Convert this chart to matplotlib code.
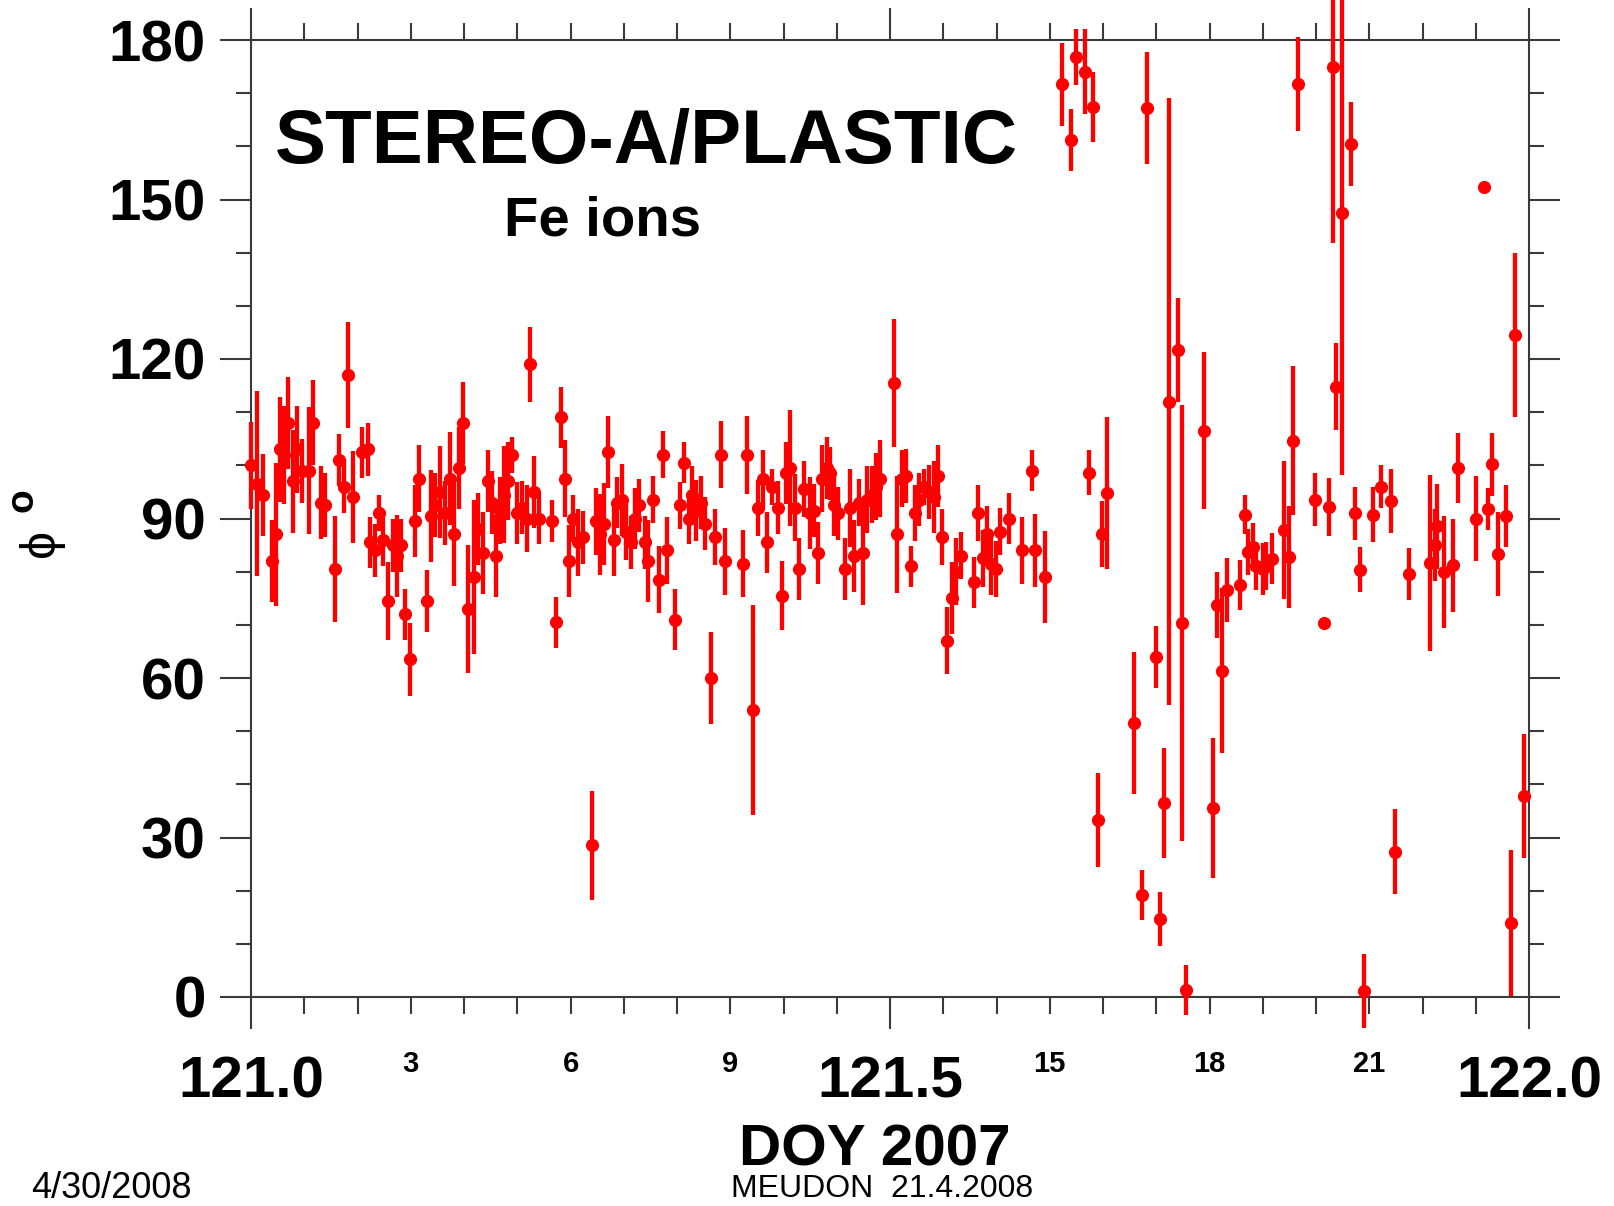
import numpy as np
import matplotlib
matplotlib.use("Agg")
import matplotlib.pyplot as plt
from matplotlib.ticker import MultipleLocator, FixedLocator, FuncFormatter

plt.rcParams["font.family"] = ["Liberation Sans", "DejaVu Sans"]
plt.rcParams["font.weight"] = "bold"

# Fe ion flow angle phi (deg) and its uncertainty, DOY 121 of 2007 (hours UT)
hour_of_day = [
    0.00, 0.12, 0.23, 0.39, 0.47, 0.54, 0.62, 0.70, 0.78, 0.87, 0.95, 1.08, 1.16, 1.32, 1.39,
    1.57, 1.66, 1.74, 1.82, 1.92, 2.09, 2.19, 2.24, 2.32, 2.40, 2.48, 2.57, 2.67, 2.75, 2.82,
    2.90, 2.98, 3.08, 3.15, 3.31, 3.38, 3.46, 3.54, 3.64, 3.73, 3.81, 3.91, 3.98, 4.08, 4.18,
    4.26, 4.35, 4.45, 4.53, 4.60, 4.68, 4.76, 4.83, 4.91, 4.99, 5.09, 5.18, 5.24, 5.32, 5.40,
    5.65, 5.72, 5.82, 5.90, 5.98, 6.05, 6.15, 6.23, 6.40, 6.48, 6.55, 6.63, 6.71, 6.81, 6.88,
    6.96, 7.04, 7.13, 7.21, 7.29, 7.39, 7.46, 7.54, 7.66, 7.73, 7.81, 7.97, 8.06, 8.14, 8.22,
    8.28, 8.35, 8.45, 8.53, 8.64, 8.72, 8.82, 8.91, 9.24, 9.32, 9.42, 9.53, 9.61, 9.69, 9.78,
    9.90, 9.98, 10.05, 10.13, 10.21, 10.30, 10.38, 10.50, 10.58, 10.65, 10.73, 10.81, 10.87,
    10.95, 11.02, 11.16, 11.25, 11.33, 11.41, 11.49, 11.56, 11.66, 11.74, 11.81, 12.07, 12.14,
    12.22, 12.30, 12.39, 12.47, 12.55, 12.64, 12.74, 12.82, 12.90, 12.97, 13.07, 13.17, 13.24,
    13.34, 13.57, 13.65, 13.74, 13.82, 13.90, 13.99, 14.07, 14.23, 14.48, 14.66, 14.73, 14.91,
    15.23, 15.40, 15.49, 15.66, 15.74, 15.82, 15.90, 15.98, 16.08, 16.58, 16.74, 16.82, 16.99,
    17.07, 17.15, 17.24, 17.41, 17.48, 17.56, 17.90, 18.07, 18.15, 18.23, 18.33, 18.57, 18.66,
    18.72, 18.82, 18.87, 19.00, 19.07, 19.17, 19.40, 19.49, 19.57, 19.66, 19.99, 20.15, 20.25,
    20.32, 20.38, 20.49, 20.66, 20.73, 20.82, 20.90, 21.07, 21.23, 21.41, 21.48, 21.74, 22.15,
    22.23, 22.27, 22.40, 22.57, 22.66, 23.00, 23.15, 23.23, 23.30, 23.41, 23.57, 23.66, 23.74,
    23.90,
]
phi_deg = [
    100.0, 96.5, 94.5, 82.0, 87.0, 103.0, 102.0, 108.0, 97.0, 103.0, 99.0, 99.0, 108.0, 93.0, 92.5,
    80.5, 101.0, 96.0, 117.0, 94.0, 102.5, 103.0, 85.5, 84.0, 91.0, 86.0, 74.5, 85.0, 83.0, 85.0,
    72.0, 63.5, 89.5, 97.5, 74.5, 90.5, 92.5, 95.0, 91.0, 97.5, 87.0, 99.5, 108.0, 73.0, 79.0,
    88.0, 83.5, 97.0, 93.0, 83.0, 91.5, 94.5, 97.0, 102.0, 91.0, 92.0, 90.0, 119.0, 95.0, 90.0,
    89.5, 70.5, 109.0, 97.5, 82.0, 90.0, 85.5, 86.5, 28.5, 89.5, 87.0, 89.0, 102.5, 86.0, 93.0,
    93.5, 87.5, 85.5, 90.0, 92.5, 85.5, 82.0, 93.5, 78.5, 102.0, 84.0, 71.0, 92.5, 100.5, 90.0,
    94.5, 91.5, 93.0, 89.0, 60.0, 86.5, 102.0, 82.0, 81.5, 102.0, 54.0, 92.0, 97.5, 85.5, 96.0,
    92.0, 75.5, 98.5, 99.5, 92.0, 80.5, 95.5, 91.0, 91.5, 83.5, 97.5, 99.5, 98.5,
    92.5, 91.0, 80.5, 92.0, 83.0, 93.0, 83.5, 93.5, 94.5, 96.0, 97.5, 115.5, 87.0,
    97.5, 98.0, 81.0, 91.0, 93.5, 96.0, 95.0, 94.0, 98.0, 86.5, 67.0, 75.0, 80.0,
    83.0, 78.0, 91.0, 82.5, 87.0, 81.5, 80.5, 87.5, 90.0, 84.0, 99.0, 84.0, 79.0,
    171.7, 161.2, 176.8, 174.0, 98.6, 167.4, 33.3, 87.0, 94.8, 51.5, 19.1, 167.2, 64.0,
    14.7, 36.5, 112.0, 121.7, 70.3, 1.3, 106.5, 35.5, 73.7, 61.4, 76.5, 77.5, 90.7,
    83.7, 84.6, 81.0, 80.5, 81.0, 82.4, 87.8, 82.8, 104.6, 171.7, 93.5, 70.3, 92.2,
    174.9, 114.8, 147.5, 160.4, 91.0, 80.4, 1.1, 90.7, 96.0, 93.3, 27.3, 79.5, 81.6,
    85.0, 88.5, 79.9, 81.2, 99.5, 90.0, 152.4, 91.8, 100.2, 83.3, 90.5, 13.9, 124.5,
    37.8,
]
phi_err = [
    8.2, 17.4, 7.7, 7.7, 13.5, 9.9, 9.2, 8.7, 9.7, 8.2, 6.0, 12.0, 8.0, 6.8, 6.0,
    10.0, 4.8, 5.0, 10.0, 8.7, 4.8, 5.0, 4.8, 5.0, 3.4, 5.0, 7.3, 5.0, 7.7, 5.0,
    4.8, 6.8, 6.8, 6.3, 5.8, 8.7, 6.0, 8.7, 6.0, 8.7, 9.7, 7.7, 7.7, 12.0, 14.5,
    6.8, 7.7, 5.8, 6.0, 7.7, 6.3, 9.2, 7.3, 3.4, 5.8, 5.0, 6.3, 7.0, 6.8, 4.8,
    4.0, 4.8, 5.8, 7.3, 6.8, 4.4, 6.3, 5.0, 10.2, 6.3, 7.7, 7.7, 6.8, 6.8, 4.8,
    6.8, 5.3, 5.0, 5.8, 5.0, 5.0, 7.7, 4.4, 6.3, 4.4, 6.3, 5.8, 4.4, 3.9, 4.8,
    5.3, 5.8, 5.0, 5.0, 8.7, 5.3, 6.3, 6.3, 6.3, 7.3, 19.8, 5.3, 5.3, 5.8, 3.4,
    5.0, 6.5, 5.8, 11.0, 6.3, 5.8, 5.3, 6.8, 5.0, 5.8, 6.3, 5.8, 5.0,
    5.8, 5.0, 5.8, 7.3, 6.8, 4.4, 9.7, 6.3, 5.3, 6.3, 7.3, 12.0, 11.0,
    5.3, 5.0, 3.9, 5.3, 5.0, 3.4, 5.0, 6.8, 5.8, 5.3, 6.3, 6.8, 6.3,
    4.4, 4.8, 5.3, 5.3, 5.3, 5.8, 5.3, 4.4, 4.8, 6.3, 3.9, 6.8, 8.7,
    7.8, 5.9, 5.2, 8.0, 4.2, 6.6, 8.8, 6.2, 14.3, 13.3, 4.7, 10.5, 5.8,
    5.1, 10.3, 57.0, 9.8, 41.0, 4.7, 14.8, 13.2, 6.2, 15.5, 6.0, 4.7, 3.7,
    4.4, 4.5, 4.5, 4.8, 4.5, 4.8, 13.0, 9.6, 14.0, 8.8, 5.0, 0.0, 5.5,
    33.0, 8.2, 49.3, 7.9, 5.0, 4.2, 7.0, 5.2, 4.0, 6.0, 8.0, 4.9, 16.5,
    6.8, 8.0, 10.5, 8.7, 6.6, 8.0, 0.0, 4.0, 5.9, 7.9, 5.8, 13.7, 15.4,
    11.6,
]

# axis tick labelling
major_doy = [121.0, 121.5, 122.0]
major_labels = ["121.0", "121.5", "122.0"]
hour_labels = {3: "3", 6: "6", 9: "9", 15: "15", 18: "18", 21: "21"}
phi_ticks = [0, 30, 60, 90, 120, 150, 180]

W, H = 1614, 1206
fig = plt.figure(figsize=(W / 100, H / 100), dpi=100)
ax = fig.add_axes([251 / W, 1 - 997 / H, (1529 - 251) / W, (997 - 40) / H])

doy = 121.0 + np.asarray(hour_of_day) / 24.0
red = "#ff0000"
eb = ax.errorbar(doy, phi_deg, yerr=phi_err, fmt="o", color=red, ecolor=red,
                 ms=9.5, mew=0, elinewidth=3.1, capsize=0, zorder=3)
eb[0].set_clip_on(False)
for coll in eb[2]:
    coll.set_clip_on(False)

ax.set_xlim(121.0, 122.0)
ax.set_ylim(0, 180)

frame_col = "#3a3a3a"
for sp in ax.spines.values():
    sp.set_color(frame_col)
    sp.set_linewidth(1.5)

# x axis: DOY major ticks, hourly minor ticks
ax.set_xticks(major_doy)
ax.set_xticklabels(major_labels)
ax.xaxis.set_minor_locator(FixedLocator([121.0 + h / 24.0 for h in range(1, 24) if h != 12]))
ax.xaxis.set_minor_formatter(
    FuncFormatter(lambda v, p: hour_labels.get(int(round((v - 121.0) * 24)), "")))
ax.tick_params(axis="x", which="major", direction="out", length=23, width=1.5,
               color=frame_col, top=True, labelsize=42, pad=19)
ax.tick_params(axis="x", which="minor", direction="out", length=12, width=1.5,
               color=frame_col, top=True, labelsize=21, pad=26)

# y axis
ax.set_yticks(phi_ticks)
ax.yaxis.set_minor_locator(MultipleLocator(10))
ax.tick_params(axis="y", which="major", direction="out", length=22.5, width=1.5,
               color=frame_col, right=True, labelsize=42, pad=10)
ax.tick_params(axis="y", which="minor", direction="out", length=11, width=1.5,
               color=frame_col, right=True)

ax.set_xlabel("DOY 2007", fontsize=42, fontweight="bold", va="baseline")
ax.xaxis.set_label_coords((875 - 251) / 1278, (997 - 1165) / 957)

# phi label with a bold superscript degree "o"
ax.set_ylabel("\u03d5", fontsize=36, fontweight="normal", rotation=90,
              va="center", ha="center")
ax.yaxis.set_label_coords((41 - 251) / 1278, (997 - 543) / 957)
fig.text(23 / W, 1 - 500 / H, "o", fontsize=28, fontweight="bold", rotation=90,
         ha="center", va="center")

fig.text(275 / W, 1 - 163 / H, "STEREO-A/PLASTIC", fontsize=55, fontweight="bold",
         ha="left", va="baseline")
fig.text(504 / W, 1 - 236 / H, "Fe ions", fontsize=40.5, fontweight="bold",
         ha="left", va="baseline")
fig.text(731 / W, 1 - 1197 / H, "MEUDON  21.4.2008", fontsize=23, fontweight="normal",
         ha="left", va="baseline")
fig.text(31 / W, 1 - 1198 / H, "4/30/2008", fontsize=26, fontweight="normal",
         ha="left", va="baseline")

fig.savefig("out.png", dpi=100, facecolor="white")
